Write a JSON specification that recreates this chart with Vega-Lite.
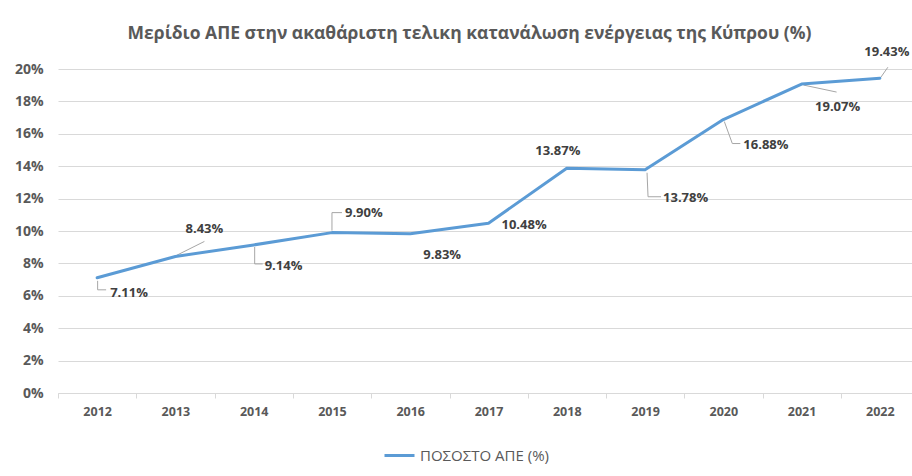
{
  "$schema": "https://vega.github.io/schema/vega-lite/v6.json",
  "width": 861,
  "height": 324,
  "autosize": {"type": "none"},
  "padding": {"left": 58, "top": 69, "right": 0, "bottom": 83},
  "background": "white",
  "title": {
    "text": "Μερίδιο ΑΠΕ στην ακαθάριστη  τελικη κατανάλωση ενέργειας της Κύπρου (%)",
    "anchor": "middle",
    "dx": -19,
    "offset": 4,
    "font": "Open Sans",
    "fontSize": 17.5,
    "fontWeight": "bold",
    "color": "#595959"
  },
  "data": {
    "values": [
      {"year": "2012", "value": 0.0711},
      {"year": "2013", "value": 0.0843},
      {"year": "2014", "value": 0.0914},
      {"year": "2015", "value": 0.0990},
      {"year": "2016", "value": 0.0983},
      {"year": "2017", "value": 0.1048},
      {"year": "2018", "value": 0.1387},
      {"year": "2019", "value": 0.1378},
      {"year": "2020", "value": 0.1688},
      {"year": "2021", "value": 0.1907},
      {"year": "2022", "value": 0.1943}
    ]
  },
  "encoding": {
    "x": {
      "field": "year",
      "type": "ordinal",
      "scale": {"type": "point", "padding": 0.5},
      "axis": {
        "title": null,
        "labelAngle": 0,
        "grid": false,
        "domainColor": "#d9d9d9",
        "tickColor": "#d9d9d9",
        "tickSize": 5,
        "tickOffset": -39,
        "labelOffset": 39,
        "labelPadding": 7,
        "labelFont": "Open Sans",
        "labelFontSize": 12.5,
        "labelFontWeight": "bold",
        "labelColor": "#595959"
      }
    },
    "y": {
      "field": "value",
      "type": "quantitative",
      "scale": {"domain": [0, 0.2]},
      "axis": {
        "title": null,
        "format": ".0%",
        "values": [0, 0.02, 0.04, 0.06, 0.08, 0.1, 0.12, 0.14, 0.16, 0.18, 0.2],
        "domain": false,
        "ticks": false,
        "grid": true,
        "gridColor": "#d9d9d9",
        "gridWidth": 1,
        "labelPadding": 15,
        "labelFont": "Open Sans",
        "labelFontSize": 14,
        "labelFontWeight": "bold",
        "labelColor": "#595959"
      }
    }
  },
  "layer": [
    {"transform": [{"filter": "datum.year == '2012'"}], "mark": {"type": "rule", "color": "#a6a6a6", "strokeWidth": 1, "xOffset": 0.5, "yOffset": 3, "x2Offset": 0.5, "y2Offset": 12}, "encoding": {"x2": {"field": "year"}, "y2": {"field": "value"}}},
    {"transform": [{"filter": "datum.year == '2012'"}], "mark": {"type": "rule", "color": "#a6a6a6", "strokeWidth": 1, "xOffset": 0.5, "yOffset": 12, "x2Offset": 9, "y2Offset": 12}, "encoding": {"x2": {"field": "year"}, "y2": {"field": "value"}}},
    {"transform": [{"filter": "datum.year == '2013'"}], "mark": {"type": "rule", "color": "#a6a6a6", "strokeWidth": 1, "xOffset": 1, "yOffset": -1, "x2Offset": 29, "y2Offset": -15}, "encoding": {"x2": {"field": "year"}, "y2": {"field": "value"}}},
    {"transform": [{"filter": "datum.year == '2014'"}], "mark": {"type": "rule", "color": "#a6a6a6", "strokeWidth": 1, "xOffset": 1, "yOffset": 2, "x2Offset": 1, "y2Offset": 19}, "encoding": {"x2": {"field": "year"}, "y2": {"field": "value"}}},
    {"transform": [{"filter": "datum.year == '2014'"}], "mark": {"type": "rule", "color": "#a6a6a6", "strokeWidth": 1, "xOffset": 1, "yOffset": 19, "x2Offset": 9, "y2Offset": 19}, "encoding": {"x2": {"field": "year"}, "y2": {"field": "value"}}},
    {"transform": [{"filter": "datum.year == '2015'"}], "mark": {"type": "rule", "color": "#a6a6a6", "strokeWidth": 1, "xOffset": 0, "yOffset": -2, "x2Offset": 0, "y2Offset": -20}, "encoding": {"x2": {"field": "year"}, "y2": {"field": "value"}}},
    {"transform": [{"filter": "datum.year == '2015'"}], "mark": {"type": "rule", "color": "#a6a6a6", "strokeWidth": 1, "xOffset": 0, "yOffset": -20, "x2Offset": 10, "y2Offset": -20}, "encoding": {"x2": {"field": "year"}, "y2": {"field": "value"}}},
    {"transform": [{"filter": "datum.year == '2019'"}], "mark": {"type": "rule", "color": "#a6a6a6", "strokeWidth": 1, "xOffset": 2, "yOffset": 3, "x2Offset": 3, "y2Offset": 27}, "encoding": {"x2": {"field": "year"}, "y2": {"field": "value"}}},
    {"transform": [{"filter": "datum.year == '2019'"}], "mark": {"type": "rule", "color": "#a6a6a6", "strokeWidth": 1, "xOffset": 3, "yOffset": 27, "x2Offset": 16, "y2Offset": 27}, "encoding": {"x2": {"field": "year"}, "y2": {"field": "value"}}},
    {"transform": [{"filter": "datum.year == '2020'"}], "mark": {"type": "rule", "color": "#a6a6a6", "strokeWidth": 1, "xOffset": 1, "yOffset": 2, "x2Offset": 9, "y2Offset": 24}, "encoding": {"x2": {"field": "year"}, "y2": {"field": "value"}}},
    {"transform": [{"filter": "datum.year == '2020'"}], "mark": {"type": "rule", "color": "#a6a6a6", "strokeWidth": 1, "xOffset": 9, "yOffset": 24, "x2Offset": 17, "y2Offset": 24}, "encoding": {"x2": {"field": "year"}, "y2": {"field": "value"}}},
    {"transform": [{"filter": "datum.year == '2021'"}], "mark": {"type": "rule", "color": "#a6a6a6", "strokeWidth": 1, "xOffset": 2, "yOffset": 1, "x2Offset": 35, "y2Offset": 8}, "encoding": {"x2": {"field": "year"}, "y2": {"field": "value"}}},
    {"transform": [{"filter": "datum.year == '2022'"}], "mark": {"type": "rule", "color": "#a6a6a6", "strokeWidth": 1, "xOffset": 1, "yOffset": -1, "x2Offset": 8, "y2Offset": -11}, "encoding": {"x2": {"field": "year"}, "y2": {"field": "value"}}},
    {
      "mark": {"type": "line", "strokeWidth": 3, "strokeJoin": "round", "strokeCap": "round"},
      "encoding": {
        "color": {
          "datum": "ΠΟΣΟΣΤΟ ΑΠΕ (%)",
          "type": "nominal",
          "scale": {"range": ["#5b9bd5"]},
          "legend": {
            "title": null,
            "orient": "none",
            "legendX": 325,
            "legendY": 370,
            "symbolType": "stroke",
            "symbolSize": 900,
            "symbolStrokeWidth": 3,
            "labelFont": "Open Sans",
            "labelFontSize": 15,
            "labelColor": "#595959",
            "labelOffset": 4
          }
        }
      }
    },
    {"transform": [{"filter": "datum.year == '2012'"}], "mark": {"type": "text", "align": "left", "baseline": "middle", "dx": 13, "dy": 15, "font": "Open Sans", "fontSize": 13, "fontWeight": "bold", "color": "#404040"}, "encoding": {"text": {"field": "value", "format": ".2%"}}},
    {"transform": [{"filter": "datum.year == '2013'"}], "mark": {"type": "text", "align": "center", "baseline": "middle", "dx": 29, "dy": -27, "font": "Open Sans", "fontSize": 13, "fontWeight": "bold", "color": "#404040"}, "encoding": {"text": {"field": "value", "format": ".2%"}}},
    {"transform": [{"filter": "datum.year == '2014'"}], "mark": {"type": "text", "align": "left", "baseline": "middle", "dx": 11, "dy": 21, "font": "Open Sans", "fontSize": 13, "fontWeight": "bold", "color": "#404040"}, "encoding": {"text": {"field": "value", "format": ".2%"}}},
    {"transform": [{"filter": "datum.year == '2015'"}], "mark": {"type": "text", "align": "left", "baseline": "middle", "dx": 13, "dy": -20, "font": "Open Sans", "fontSize": 13, "fontWeight": "bold", "color": "#404040"}, "encoding": {"text": {"field": "value", "format": ".2%"}}},
    {"transform": [{"filter": "datum.year == '2016'"}], "mark": {"type": "text", "align": "center", "baseline": "middle", "dx": 32, "dy": 21, "font": "Open Sans", "fontSize": 13, "fontWeight": "bold", "color": "#404040"}, "encoding": {"text": {"field": "value", "format": ".2%"}}},
    {"transform": [{"filter": "datum.year == '2017'"}], "mark": {"type": "text", "align": "left", "baseline": "middle", "dx": 13, "dy": 2, "font": "Open Sans", "fontSize": 13, "fontWeight": "bold", "color": "#404040"}, "encoding": {"text": {"field": "value", "format": ".2%"}}},
    {"transform": [{"filter": "datum.year == '2018'"}], "mark": {"type": "text", "align": "center", "baseline": "middle", "dx": -9, "dy": -17, "font": "Open Sans", "fontSize": 13, "fontWeight": "bold", "color": "#404040"}, "encoding": {"text": {"field": "value", "format": ".2%"}}},
    {"transform": [{"filter": "datum.year == '2019'"}], "mark": {"type": "text", "align": "left", "baseline": "middle", "dx": 18, "dy": 28, "font": "Open Sans", "fontSize": 13, "fontWeight": "bold", "color": "#404040"}, "encoding": {"text": {"field": "value", "format": ".2%"}}},
    {"transform": [{"filter": "datum.year == '2020'"}], "mark": {"type": "text", "align": "left", "baseline": "middle", "dx": 20, "dy": 25, "font": "Open Sans", "fontSize": 13, "fontWeight": "bold", "color": "#404040"}, "encoding": {"text": {"field": "value", "format": ".2%"}}},
    {"transform": [{"filter": "datum.year == '2021'"}], "mark": {"type": "text", "align": "center", "baseline": "middle", "dx": 36, "dy": 23, "font": "Open Sans", "fontSize": 13, "fontWeight": "bold", "color": "#404040"}, "encoding": {"text": {"field": "value", "format": ".2%"}}},
    {"transform": [{"filter": "datum.year == '2022'"}], "mark": {"type": "text", "align": "center", "baseline": "middle", "dx": 7, "dy": -26, "font": "Open Sans", "fontSize": 13, "fontWeight": "bold", "color": "#404040"}, "encoding": {"text": {"field": "value", "format": ".2%"}}}
  ],
  "config": {
    "view": {"stroke": null}
  }
}
